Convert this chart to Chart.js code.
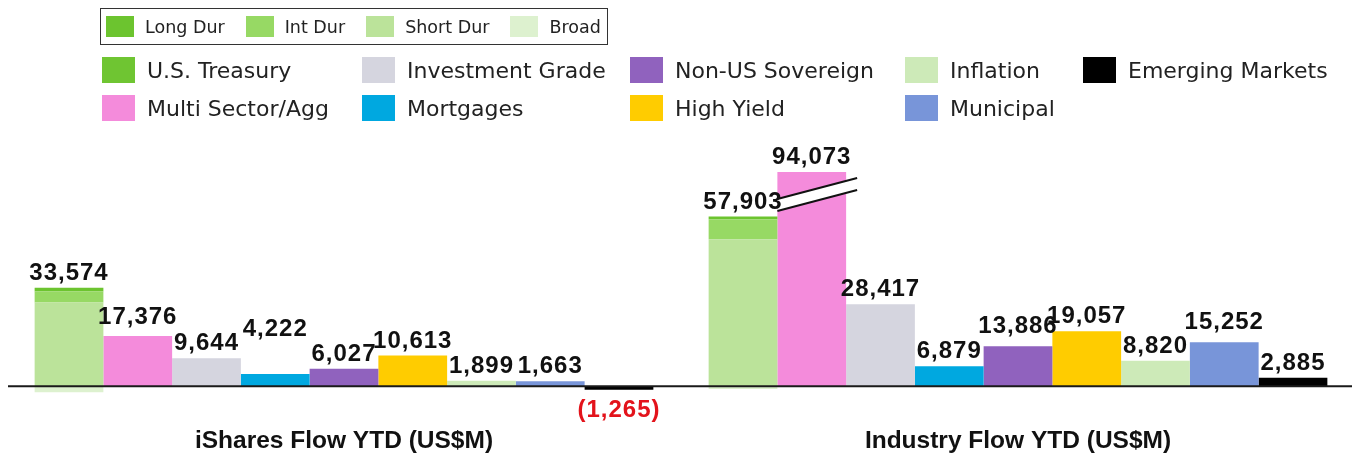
<!DOCTYPE html>
<html>
<head>
<meta charset="utf-8">
<script src="https://cdn.jsdelivr.net/npm/chart.js@4.4.1/dist/chart.umd.min.js"></script>
<style>
  body { margin: 0; background: #fff; }
  #wrap { position: relative; width: 1355px; height: 457px; overflow: hidden; }
  #chart { position: absolute; left: 0; top: 0; }
  #durLegend {
    position: absolute; left: 100px; top: 8px; height: 35px;
    border: 1.5px solid #333; display: flex; align-items: center;
    padding: 0 6px 0 5px;
    font-family: "DejaVu Sans", sans-serif; font-size: 17.5px; color: #222;
  }
  #durLegend .item { display: flex; align-items: center; margin-right: 21px; }
  #durLegend .item:last-child { margin-right: 0; }
  #durLegend .sw { width: 28px; height: 21px; margin-right: 11px; }
  .sector { position: absolute; display: flex; align-items: center;
    font-family: "DejaVu Sans", sans-serif; font-size: 22px; color: #222; white-space: nowrap; }
  .sector .sw { width: 33px; height: 26px; margin-right: 12px; }
</style>
</head>
<body>
<div id="wrap">
  <canvas id="chart" width="1355" height="457"></canvas>
  <div id="durLegend"></div>
</div>
<script>
var groups = ['iShares Flow YTD (US$M)', 'Industry Flow YTD (US$M)'];

var sectors = ['U.S. Treasury', 'Multi Sector/Agg', 'Investment Grade', 'Mortgages',
  'Non-US Sovereign', 'High Yield', 'Inflation', 'Municipal', 'Emerging Markets'];
var sectorColors = ['#6fc532', '#f48bdb', '#d5d5df', '#00a8e0',
  '#9062be', '#ffcc00', '#cdeab8', '#7895d9', '#000000'];

var isharesFlow = [33574, 17376, 9644, 4222, 6027, 10613, 1899, 1663, -1265];
var industryFlow = [57903, 94073, 28417, 6879, 13886, 19057, 8820, 15252, 2885];

// treasury split by duration
var durations = ['Long Dur', 'Int Dur', 'Short Dur', 'Broad'];
var durationColors = ['#6cc42f', '#97d964', '#bbe39a', '#ddf1cf'];
var isharesTreasury = [1300, 3800, 29100, -2100];
var industryTreasury = [900, 7000, 51000, -1000];

// extra lift for a few value labels (px), same order as sectors
var labelLift = [
  [0, 4, 0, 30, 0, 0, 0, 0, 0],
  [0, 0, 0, 0, 5, 0, 0, 5, 0]
];

// legends
var durBox = document.getElementById('durLegend');
durations.forEach(function (name, i) {
  var item = document.createElement('div');
  item.className = 'item';
  item.innerHTML = '<span class="sw" style="background:' + durationColors[i] + '"></span>' + name;
  durBox.appendChild(item);
});

var legendCols = [102, 362, 630, 905, 1083];
var legendRows = [57, 95];
sectors.forEach(function (name, i) {
  var item = document.createElement('div');
  item.className = 'sector';
  item.style.left = legendCols[Math.floor(i / 2)] + 'px';
  item.style.top = legendRows[i % 2] + 'px';
  item.innerHTML = '<span class="sw" style="background:' + sectorColors[i] + '"></span>' + name;
  document.getElementById('wrap').appendChild(item);
});

// datasets: treasury stack first (Broad, Short, Int, Long from the bottom), then one bar per sector
var datasets = [];
[3, 2, 1, 0].forEach(function (d) {
  datasets.push({
    label: durations[d],
    data: [isharesTreasury[d], industryTreasury[d]],
    backgroundColor: durationColors[d],
    stack: 'tsy'
  });
});
for (var s = 1; s < sectors.length; s++) {
  datasets.push({
    label: sectors[s],
    data: [isharesFlow[s], industryFlow[s]],
    backgroundColor: sectorColors[s],
    stack: 'sector' + s
  });
}

function barFor(chart, s, g) {
  // treasury label sits on the top segment (Long Dur)
  var idx = s === 0 ? 3 : 3 + s;
  return chart.getDatasetMeta(idx).data[g];
}

var zeroLine = {
  id: 'zeroLine',
  afterDatasetsDraw: function (chart) {
    var ctx = chart.ctx, area = chart.chartArea;
    var y0 = chart.scales.y.getPixelForValue(0);
    ctx.save();
    ctx.strokeStyle = '#1a1a1a';
    ctx.lineWidth = 2;
    ctx.beginPath();
    ctx.moveTo(area.left + 1, y0);
    ctx.lineTo(area.right - 3, y0);
    ctx.stroke();
    ctx.restore();
  }
};

var axisBreak = {
  id: 'axisBreak',
  afterDatasetsDraw: function (chart) {
    var ctx = chart.ctx, area = chart.chartArea, yMax = chart.scales.y.max;
    chart.data.datasets.forEach(function (ds, i) {
      ds.data.forEach(function (v, g) {
        if (v <= yMax) return;
        var bar = chart.getDatasetMeta(i).data[g];
        var l = bar.x - bar.width / 2;
        var r = bar.x + bar.width / 2 + 11;
        var t = area.top;
        ctx.save();
        ctx.fillStyle = '#fff';
        ctx.beginPath();
        ctx.moveTo(l, t + 27);
        ctx.lineTo(r, t + 6);
        ctx.lineTo(r, t + 18);
        ctx.lineTo(l, t + 39);
        ctx.closePath();
        ctx.fill();
        ctx.strokeStyle = '#111';
        ctx.lineWidth = 2;
        ctx.beginPath();
        ctx.moveTo(l, t + 27);
        ctx.lineTo(r, t + 6);
        ctx.moveTo(l, t + 39);
        ctx.lineTo(r, t + 18);
        ctx.stroke();
        ctx.restore();
      });
    });
  }
};

var valueLabels = {
  id: 'valueLabels',
  afterDatasetsDraw: function (chart) {
    var ctx = chart.ctx, area = chart.chartArea;
    ctx.save();
    ctx.font = 'bold 24px "Liberation Sans", Arial, sans-serif';
    ctx.letterSpacing = '1px';
    ctx.textAlign = 'center';
    [isharesFlow, industryFlow].forEach(function (flows, g) {
      flows.forEach(function (v, s) {
        var bar = barFor(chart, s, g);
        var txt = Math.abs(v).toLocaleString('en-US');
        if (v >= 0) {
          ctx.fillStyle = '#111';
          ctx.textBaseline = 'alphabetic';
          ctx.fillText(txt, bar.x, Math.max(bar.y, area.top) - 8 - labelLift[g][s]);
        } else {
          ctx.fillStyle = '#e3131b';
          ctx.textBaseline = 'top';
          ctx.fillText('(' + txt + ')', bar.x, bar.y + 9);
        }
      });
    });
    ctx.restore();
  }
};

new Chart(document.getElementById('chart').getContext('2d'), {
  type: 'bar',
  data: { labels: groups, datasets: datasets },
  options: {
    responsive: false,
    animation: false,
    layout: { padding: { top: 172, left: 7, right: 0, bottom: 3 } },
    datasets: { bar: { categoryPercentage: 0.918, barPercentage: 1, borderWidth: 0 } },
    plugins: { legend: { display: false }, tooltip: { enabled: false } },
    scales: {
      x: {
        grid: { display: false, drawTicks: false },
        border: { display: false },
        afterFit: function (scale) { scale.height = 46; },
        ticks: {
          padding: 19,
          color: '#111',
          font: { family: '"Liberation Sans", Arial, sans-serif', size: 24.5, weight: 'bold' }
        }
      },
      y: { display: false, min: -7600, max: 74400 }
    }
  },
  plugins: [zeroLine, axisBreak, valueLabels]
});
</script>
</body>
</html>
